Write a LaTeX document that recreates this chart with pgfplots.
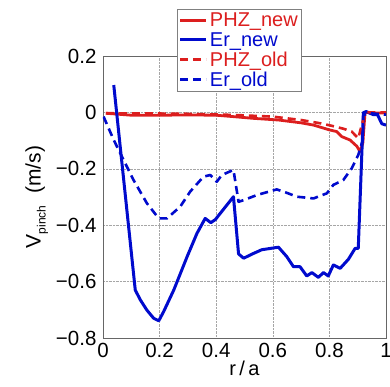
\documentclass[border=0pt]{standalone}
\usepackage{pgfplots}
\pgfplotsset{compat=1.18}
\usepackage{fontspec}
\setmainfont{Liberation Sans}
\definecolor{myred}{RGB}{220,30,30}
\definecolor{myblue}{RGB}{0,10,205}
\begin{document}
\begin{tikzpicture}[x=1pt,y=1pt]
\useasboundingbox (-103,-48) rectangle (287,338);
\begin{axis}[
  at={(0,0)}, anchor=south west,
  scale only axis, width=283pt, height=282pt,
  xmin=0, xmax=1, ymin=-0.8, ymax=0.2,
  xtick={0,0.2,0.4,0.6,0.8,1},
  xticklabels={0,0.2,0.4,0.6,0.8,1},
  ytick={-0.8,-0.6,-0.4,-0.2,0,0.2},
  yticklabels={−0.8,−0.6,−0.4,−0.2,0,0.2},
  major tick length=0pt,
  grid=major,
  grid style={densely dotted, gray!70, line width=0.6pt},
  axis line style={gray!80!black, line width=0.8pt},
  tick label style={font=\fontsize{20.5}{22}\selectfont},
  xticklabel style={yshift=-2pt},
  yticklabel style={xshift=-3pt},
  xlabel={r\,/\,a},
  xlabel style={font=\fontsize{20}{22}\selectfont, yshift=4pt},
  ylabel={V\raisebox{-0.45ex}{\fontsize{12}{12}\selectfont pinch}\ \ (m/s)},
  ylabel style={font=\fontsize{21}{22}\selectfont, yshift=1pt},
  legend style={at={(0.482,1.168)}, anchor=north, draw=gray, line width=0.8pt,
    fill=white, font=\fontsize{20}{24}\selectfont, inner sep=2pt,
    row sep=0pt, legend cell align=left},
  legend image code/.code={\draw[#1] (0pt,0pt) -- (26pt,0pt);},
]
\addplot[draw=myred, solid, line width=2.8pt, line join=round] coordinates {
(0.01,-0.003) (0.1,-0.01) (0.2,-0.01) (0.3,-0.009) (0.4,-0.01) (0.461,-0.015)
(0.53,-0.021) (0.62,-0.027) (0.7,-0.037) (0.744,-0.045) (0.8,-0.062)
(0.826,-0.068) (0.844,-0.086) (0.873,-0.098) (0.897,-0.12) (0.908,-0.139)
(0.918,-0.11) (0.926,0.0) (0.96,-0.002) (1.0,-0.002)};
\addlegendentry{\textcolor{myred}{PHZ\_new}}
\addplot[draw=myblue, solid, line width=3pt, line join=round] coordinates {
(0.038,0.097) (0.114,-0.63) (0.132,-0.665) (0.155,-0.701) (0.179,-0.73)
(0.197,-0.739) (0.214,-0.707) (0.25,-0.63) (0.297,-0.512) (0.332,-0.429)
(0.361,-0.376) (0.381,-0.391) (0.397,-0.38) (0.461,-0.299) (0.479,-0.502)
(0.497,-0.517) (0.532,-0.5) (0.561,-0.487) (0.62,-0.478) (0.649,-0.511)
(0.673,-0.547) (0.696,-0.547) (0.72,-0.58) (0.738,-0.568) (0.761,-0.585)
(0.779,-0.568) (0.796,-0.58) (0.814,-0.541) (0.838,-0.553) (0.867,-0.521)
(0.891,-0.482) (0.902,-0.482) (0.92,-0.001) (0.93,0.003) (0.955,-0.008)
(0.97,-0.008) (0.985,-0.04) (1.0,-0.045)};
\addlegendentry{\textcolor{myblue}{Er\_new}}
\addplot[draw=myred, line width=2.6pt, line join=round, dash pattern=on 8pt off 5pt] coordinates {
(0.01,-0.003) (0.2,-0.004) (0.3,-0.005) (0.461,-0.009) (0.6,-0.015)
(0.7,-0.027) (0.77,-0.039) (0.81,-0.048) (0.85,-0.058) (0.879,-0.068)
(0.902,-0.092) (0.926,0.0) (1.0,0.0)};
\addlegendentry{\textcolor{myred}{PHZ\_old}}
\addplot[draw=myblue, line width=2.6pt, line join=round, dash pattern=on 8pt off 5pt] coordinates {
(0.002,-0.015) (0.038,-0.098) (0.061,-0.145) (0.108,-0.24) (0.155,-0.322)
(0.197,-0.376) (0.226,-0.376) (0.273,-0.334) (0.308,-0.281) (0.355,-0.228)
(0.379,-0.222) (0.402,-0.246) (0.42,-0.222) (0.461,-0.204) (0.479,-0.317)
(0.497,-0.311) (0.544,-0.293) (0.614,-0.273) (0.649,-0.285) (0.685,-0.299)
(0.744,-0.305) (0.791,-0.287) (0.814,-0.257) (0.849,-0.24) (0.879,-0.198)
(0.902,-0.151) (0.918,-0.098) (0.92,-0.009) (0.943,-0.003) (1.0,-0.008)};
\addlegendentry{\textcolor{myblue}{Er\_old}}
\end{axis}
\end{tikzpicture}
\end{document}
